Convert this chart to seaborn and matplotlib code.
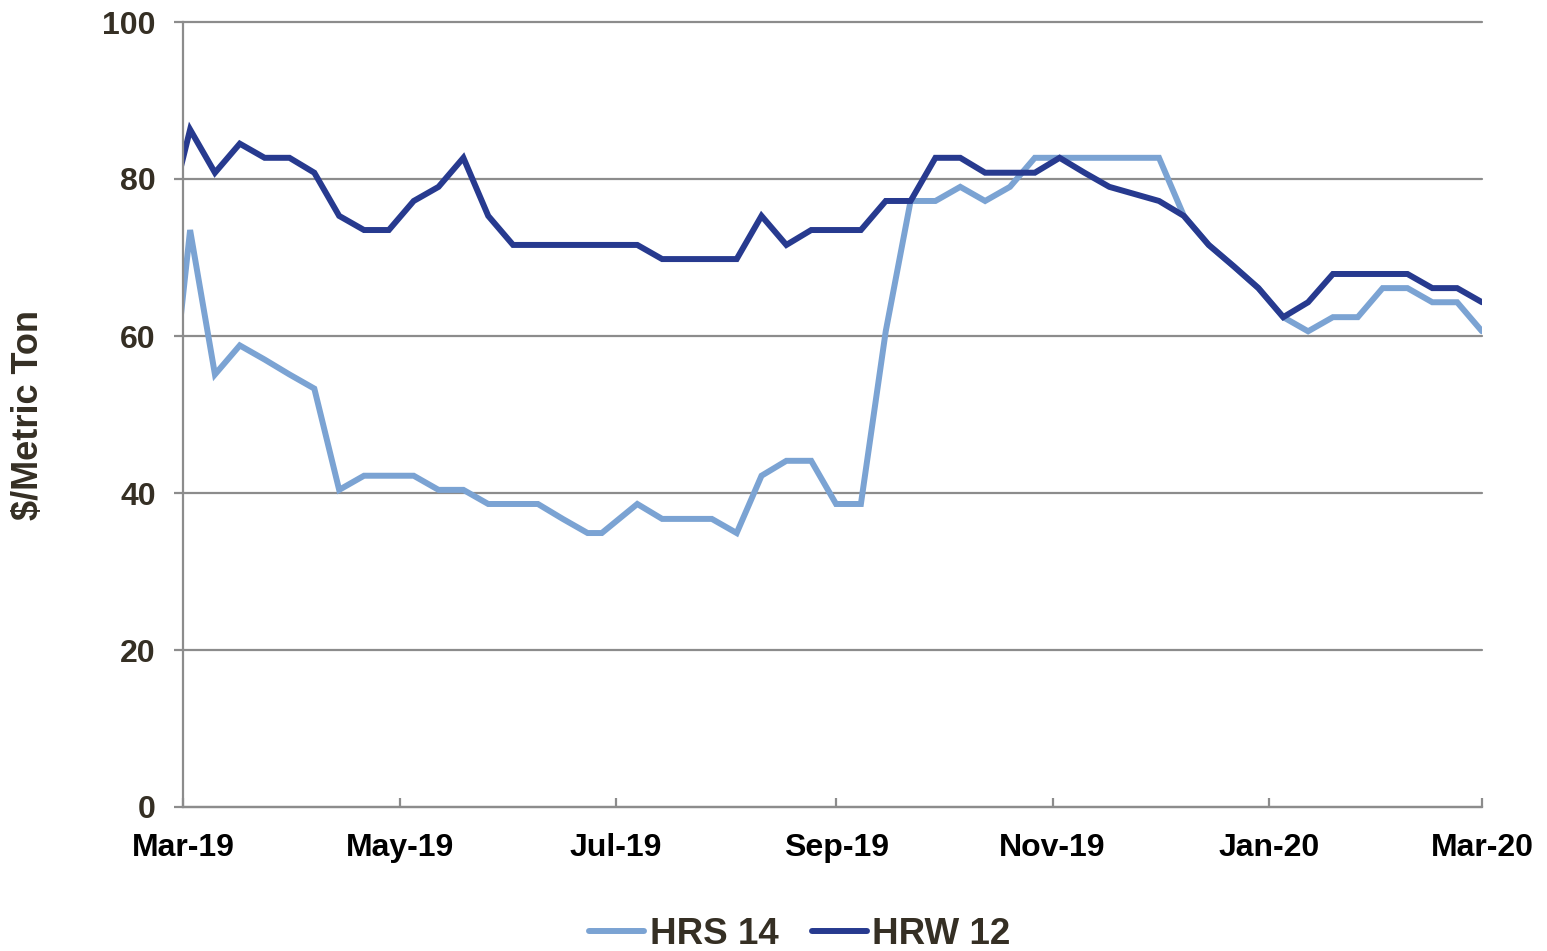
import matplotlib
matplotlib.use("Agg")
import matplotlib.pyplot as plt
import matplotlib.dates as mdates
import numpy as np
import pandas as pd
import seaborn as sns

# Weekly observation dates (the first one falls just before the axis start)
dates = pd.to_datetime([
    "2019-02-24",
    "2019-03-03", "2019-03-10", "2019-03-17", "2019-03-24", "2019-03-31",
    "2019-04-07", "2019-04-14", "2019-04-21", "2019-04-28",
    "2019-05-05", "2019-05-12", "2019-05-19", "2019-05-26",
    "2019-06-02", "2019-06-09", "2019-06-16", "2019-06-23", "2019-06-27",
    "2019-07-07", "2019-07-14", "2019-07-21", "2019-07-28",
    "2019-08-04", "2019-08-11", "2019-08-18", "2019-08-25",
    "2019-09-01", "2019-09-08", "2019-09-15", "2019-09-22", "2019-09-29",
    "2019-10-06", "2019-10-13", "2019-10-20", "2019-10-27",
    "2019-11-03", "2019-11-10", "2019-11-17", "2019-11-24",
    "2019-12-01", "2019-12-08", "2019-12-15", "2019-12-22", "2019-12-29",
    "2020-01-05", "2020-01-12", "2020-01-19", "2020-01-26",
    "2020-02-02", "2020-02-09", "2020-02-16", "2020-02-23",
    "2020-03-01",
])

# Protein premiums, $/metric ton
hrs14 = [
    44.1,
    73.5, 55.1, 58.8, 57.0, 55.1,
    53.3, 40.4, 42.2, 42.2,
    42.2, 40.4, 40.4, 38.6,
    38.6, 38.6, 36.7, 34.9, 34.9,
    38.6, 36.7, 36.7, 36.7,
    34.9, 42.2, 44.1, 44.1,
    38.6, 38.6, 60.6, 77.2, 77.2,
    79.0, 77.2, 79.0, 82.7,
    82.7, 82.7, 82.7, 82.7,
    82.7, 75.3, 71.6, 68.9, 66.1,
    62.4, 60.6, 62.4, 62.4,
    66.1, 66.1, 64.3, 64.3,
    60.6,
]
hrw12 = [
    73.5,
    86.3, 80.8, 84.5, 82.7, 82.7,
    80.8, 75.3, 73.5, 73.5,
    77.2, 79.0, 82.7, 75.3,
    71.6, 71.6, 71.6, 71.6, 71.6,
    71.6, 69.8, 69.8, 69.8,
    69.8, 75.3, 71.6, 73.5,
    73.5, 73.5, 77.2, 77.2, 82.7,
    82.7, 80.8, 80.8, 80.8,
    82.7, 80.8, 79.0, 78.1,
    77.2, 75.3, 71.6, 68.9, 66.1,
    62.4, 64.3, 67.9, 67.9,
    67.9, 67.9, 66.1, 66.1,
    64.3,
]

series_names = ["HRS 14", "HRW 12"]
series_colors = {"HRS 14": "#7ba3d3", "HRW 12": "#273a8f"}
y_ticks = [0, 20, 40, 60, 80, 100]
y_label = "$/Metric Ton"

df = pd.concat([
    pd.DataFrame({"date": dates, "value": hrs14, "series": series_names[0]}),
    pd.DataFrame({"date": dates, "value": hrw12, "series": series_names[1]}),
], ignore_index=True)

sns.set_theme(style="white")
plt.rcParams["font.family"] = ["Liberation Sans", "DejaVu Sans"]
plt.rcParams["font.weight"] = "bold"

text_dark = "#352f24"
grid_grey = "#8c8c8c"
line_w = 4.3

fig = plt.figure(figsize=(15.47, 9.51), dpi=100)
ax = fig.add_axes([183 / 1547, 1 - 807 / 951, (1482 - 183) / 1547, (807 - 22) / 951])

sns.lineplot(data=df, x="date", y="value", hue="series", hue_order=series_names,
             palette=series_colors, linewidth=line_w, ax=ax, legend=True,
             solid_joinstyle="miter")

ax.set_xlim(pd.Timestamp("2019-03-01"), pd.Timestamp("2020-03-01"))
ax.set_ylim(0, 100)
ax.set_yticks(y_ticks)

ax.xaxis.set_major_locator(mdates.MonthLocator(bymonth=[1, 3, 5, 7, 9, 11]))
ax.xaxis.set_major_formatter(mdates.DateFormatter("%b-%y"))

ax.grid(axis="y", color=grid_grey, linewidth=1.6)
ax.grid(axis="x", visible=False)
for gl in ax.get_ygridlines():
    gl.set_clip_on(False)
ax.set_axisbelow(True)

for side in ["top", "right"]:
    ax.spines[side].set_visible(False)
for side in ["left", "bottom"]:
    ax.spines[side].set_color(grid_grey)
    ax.spines[side].set_linewidth(1.6)

ax.tick_params(axis="y", direction="out", length=6.5, width=1.6, color=grid_grey,
               labelsize=23, labelcolor=text_dark, pad=13, left=True)
ax.tick_params(axis="x", direction="in", length=6.5, width=1.6, color=grid_grey,
               labelsize=23, labelcolor="black", pad=19, bottom=True)
for lbl in ax.get_xticklabels() + ax.get_yticklabels():
    lbl.set_fontweight("bold")

ax.set_xlabel("")
ax.set_ylabel(y_label, fontsize=26, fontweight="bold", color=text_dark)
ax.yaxis.set_label_coords(-(183 - 46) / (1482 - 183), 0.5)

handles, labels = ax.get_legend_handles_labels()
ax.get_legend().remove()
leg = fig.legend(handles, labels, loc="center", bbox_to_anchor=(800 / 1547, 17 / 951),
                 ncol=2, frameon=False, fontsize=26.5, handlelength=1.5,
                 handletextpad=0.15, columnspacing=0.9, borderaxespad=0)
for t in leg.get_texts():
    t.set_color(text_dark)
    t.set_fontweight("bold")
for h in leg.get_lines():
    h.set_linewidth(line_w)

fig.savefig("out.png", dpi=100)
